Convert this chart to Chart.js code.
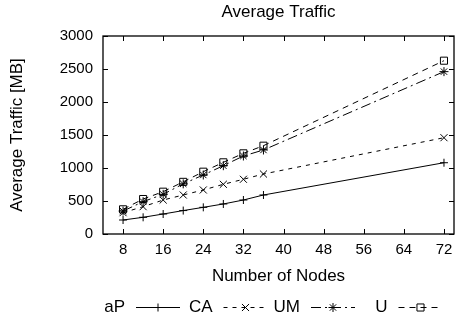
<!DOCTYPE html>
<html>
<head>
<meta charset="utf-8">
<script src="https://cdn.jsdelivr.net/npm/chart.js@4.4.1/dist/chart.umd.min.js"></script>
<style>
html,body{margin:0;padding:0;background:#fff;}
#wrap{width:460px;height:324px;position:relative;}
</style>
</head>
<body>
<div id="wrap"><canvas id="c" width="460" height="324"></canvas></div>
<script>
// ---- data ----
const nodes = [8, 12, 16, 20, 24, 28, 32, 36, 72];
const aP = [212, 253, 303, 355, 404, 455, 515, 591, 1080];
const CA = [323, 414, 515, 591, 667, 753, 829, 909, 1459];
const UM = [348, 490, 601, 760, 894, 1035, 1182, 1273, 2460];
const U  = [374, 530, 641, 790, 944, 1086, 1222, 1338, 2626];
const xTicks = [8, 16, 24, 32, 40, 48, 56, 64, 72];
const yTicks = [0, 500, 1000, 1500, 2000, 2500, 3000];
const seriesNames = ['aP', 'CA', 'UM', 'U'];
const chartTitle = 'Average Traffic';

Chart.defaults.font.family = "'Liberation Sans', Arial, sans-serif";
Chart.defaults.color = '#000';

function pts(vals) { return nodes.map((n, i) => ({x: n, y: vals[i]})); }

const styles = [
  {dash: [], point: 'cross', r: 4},
  {dash: [4, 5], point: 'crossRot', r: 5},
  {dash: [10, 4, 2, 4], point: 'star', r: 4.5},
  {dash: [6, 5], point: 'rect', r: 5}
];
const allVals = [aP, CA, UM, U];

const datasets = seriesNames.map((name, i) => ({
  label: name,
  data: pts(allVals[i]),
  borderColor: '#000',
  backgroundColor: 'rgba(0,0,0,0)',
  borderWidth: 1,
  borderDash: styles[i].dash,
  pointStyle: styles[i].point,
  pointRadius: styles[i].r,
  pointBorderColor: '#000',
  pointBackgroundColor: 'rgba(0,0,0,0)',
  pointBorderWidth: 1,
  tension: 0
}));

const framePlugin = {
  id: 'frame',
  afterDraw(chart) {
    const {ctx, chartArea: a, scales: {x, y}} = chart;
    ctx.save();
    // title centred over plot area
    ctx.font = "17px 'Liberation Sans', Arial, sans-serif";
    ctx.fillStyle = '#000';
    ctx.textAlign = 'center';
    ctx.textBaseline = 'middle';
    ctx.fillText(chartTitle, (a.left + a.right) / 2, 12);

    ctx.strokeStyle = '#000';
    ctx.lineWidth = 1.3;
    ctx.setLineDash([]);
    ctx.strokeRect(a.left, a.top, a.right - a.left, a.bottom - a.top);
    ctx.lineWidth = 1;
    const tl = 5;
    ctx.beginPath();
    xTicks.forEach(v => {
      const px = Math.round(x.getPixelForValue(v)) + 0.5;
      ctx.moveTo(px, a.bottom); ctx.lineTo(px, a.bottom - tl);
      ctx.moveTo(px, a.top); ctx.lineTo(px, a.top + tl);
    });
    yTicks.forEach(v => {
      const py = Math.round(y.getPixelForValue(v)) + 0.5;
      ctx.moveTo(a.left, py); ctx.lineTo(a.left + tl, py);
      ctx.moveTo(a.right, py); ctx.lineTo(a.right - tl, py);
    });
    ctx.stroke();

    // legend (gnuplot style: text, then sample)
    const ly = 307;
    const firstRight = 125, step = 87.5, gap = 11, sw = 44;
    ctx.textAlign = 'right';
    chart.data.datasets.forEach((ds, i) => {
      const tr = firstRight + step * i;
      ctx.fillStyle = '#000';
      ctx.fillText(ds.label, tr, ly);
      const sx = tr + gap;
      ctx.beginPath();
      ctx.setLineDash(ds.borderDash);
      ctx.lineWidth = 1;
      ctx.moveTo(sx, ly + 0.5); ctx.lineTo(sx + sw, ly + 0.5);
      ctx.stroke();
      ctx.setLineDash([]);
      ctx.fillStyle = 'rgba(0,0,0,0)';
      Chart.helpers.drawPoint(ctx, {
        pointStyle: ds.pointStyle, radius: ds.pointRadius, borderWidth: 1, rotation: 0
      }, sx + sw / 2, ly + 0.5);
    });
    ctx.restore();
  }
};

new Chart(document.getElementById('c'), {
  type: 'line',
  data: {datasets},
  options: {
    responsive: false,
    animation: false,
    devicePixelRatio: 1,
    layout: {padding: {left: 0, right: 6, top: 36, bottom: 35}},
    plugins: {
      legend: {display: false},
      tooltip: {enabled: false},
      title: {display: false}
    },
    scales: {
      x: {
        type: 'linear',
        min: 4, max: 74,
        afterBuildTicks: s => { s.ticks = xTicks.map(v => ({value: v})); },
        afterFit: s => { s.height = 55; },
        grid: {display: false, drawTicks: false},
        border: {display: false},
        ticks: {font: {size: 15}, padding: 7, color: '#000', maxRotation: 0, autoSkip: false,
                callback: v => String(v)},
        title: {display: true, text: 'Number of Nodes', font: {size: 17}, color: '#000', padding: {top: 0, bottom: 2}}
      },
      y: {
        type: 'linear',
        min: 0, max: 3000,
        afterBuildTicks: s => { s.ticks = yTicks.map(v => ({value: v})); },
        afterFit: s => { s.width = 103; },
        grid: {display: false, drawTicks: false},
        border: {display: false},
        ticks: {font: {size: 15}, padding: 10, color: '#000', callback: v => String(v)},
        title: {display: true, text: 'Average Traffic [MB]', font: {size: 17}, color: '#000', padding: {top: 7, bottom: 0}}
      }
    }
  },
  plugins: [framePlugin]
});
</script>
</body>
</html>
